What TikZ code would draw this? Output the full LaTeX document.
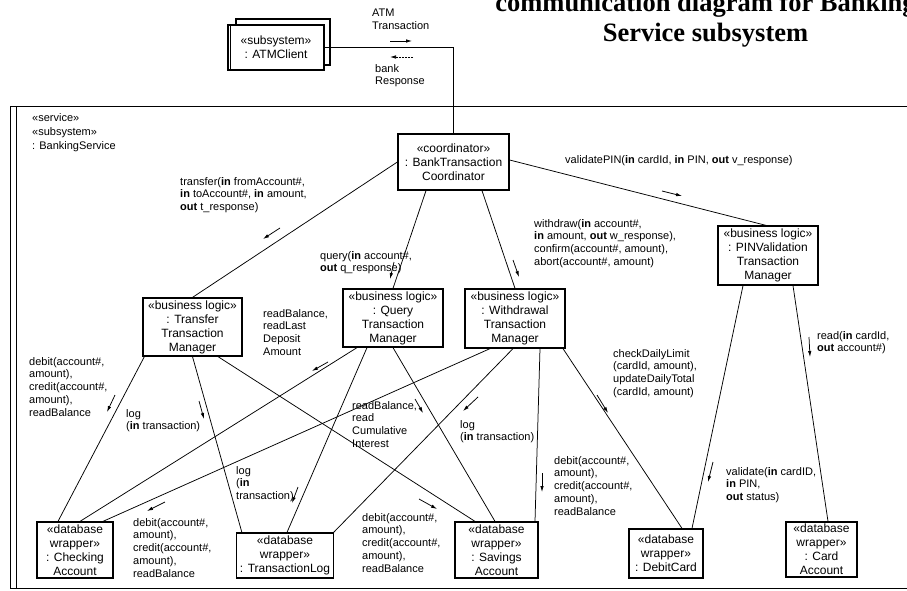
\documentclass[tikz,border=0pt]{standalone}
\usepackage{fontspec}
\setmainfont{Liberation Sans}
\newfontfamily\mytitlefont{Liberation Serif}
\usetikzlibrary{arrows.meta}
\newcommand\myboxfont{\fontsize{12}{14}\selectfont}
\newcommand\mylblfont{\fontsize{11}{12.8}\selectfont}
\begin{document}
\begin{tikzpicture}[x=1pt,y=-1pt,
  obj/.style={draw, line width=1.25pt, fill=white, align=center, inner sep=0pt, font=\myboxfont},
  link/.style={line width=0.75pt},
  lbl/.style={anchor=north west, inner sep=0pt, align=left, font=\mylblfont},
  msg/.style={line width=0.75pt, -{Latex[length=6pt,width=3.5pt]}},
  ttl/.style={anchor=base, inner sep=0pt, font=\mytitlefont\bfseries\fontsize{26.5}{30}\selectfont},
]
\useasboundingbox (0,0) rectangle (907,591);

% title
\node[ttl] (title1) at (705.5,12) {communication diagram for Banking};
\node[ttl] (title2) at (705.5,41.5) {Service subsystem};

% BankingService frame
\draw[line width=1pt] (925,107) -- (10,107) -- (10,588) -- (925,588);
\draw[line width=1pt] (16.5,107) -- (16.5,588);
\node[lbl, font=\fontsize{11}{14}\selectfont] (bsvc) at (32,113) {«service»\\«subsystem»\\: BankingService};

% ATM client multi-object
\draw[line width=1.25pt, fill=white] (236,19) rectangle (330,65);
\node[obj, minimum width=96pt, minimum height=45pt] (atm) at (276,47.5) {«subsystem»\\: ATMClient};
\draw[line width=1.1pt] ([xshift=3.5pt]atm.north west) -- ([xshift=3.5pt]atm.south west);

% objects
\node[obj, minimum width=111pt, minimum height=56pt] (coord) at (453.5,162) {«coordinator»\\: BankTransaction\\Coordinator};
\node[obj, minimum width=99pt, minimum height=58pt] (tran) at (192.5,327) {«business logic»\\: Transfer\\Transaction\\Manager};
\node[obj, minimum width=100pt, minimum height=58pt] (query) at (393,318) {«business logic»\\: Query\\Transaction\\Manager};
\node[obj, minimum width=100pt, minimum height=59pt] (wdr) at (515,318.5) {«business logic»\\: Withdrawal\\Transaction\\Manager};
\node[obj, minimum width=100pt, minimum height=59pt] (pin) at (768,255.5) {«business logic»\\: PINValidation\\Transaction\\Manager};
\node[obj, minimum width=76pt, minimum height=56pt] (chk) at (75,550) {«database\\wrapper»\\: Checking\\Account};
\node[obj, minimum width=97pt, minimum height=45pt] (tlog) at (285,555.5) {«database\\wrapper»\\: TransactionLog};
\node[obj, minimum width=83pt, minimum height=56pt] (sav) at (496.5,550) {«database\\wrapper»\\: Savings\\Account};
\node[obj, minimum width=74pt, minimum height=49pt] (dcard) at (666,553.5) {«database\\wrapper»\\: DebitCard};
\node[obj, minimum width=71pt, minimum height=55pt] (card) at (821.5,549.5) {«database\\wrapper»\\: Card\\Account};

% links
\draw[link] (atm.east) -| (coord.north);
\draw[link] (coord.west) -- (tran.north);
\draw[link] ([xshift=-27.5pt]coord.south) -- (query.north);
\draw[link] ([xshift=28.5pt]coord.south) -- (wdr.north);
\draw[link] ([yshift=2pt]coord.east) -- ([xshift=-2pt]pin.north);
\draw[link] ([xshift=2pt]tran.south west) -- ([xshift=-17pt]chk.north);
\draw[link] (tran.south) -- ([xshift=6pt]tlog.north west);
\draw[link] ([xshift=25.5pt]tran.south) -- ([xshift=-21.5pt]sav.north);
\draw[link] ([xshift=-36pt]query.south) -- ([xshift=5pt]chk.north);
\draw[link] ([xshift=-26pt]query.south) -- ([xshift=2pt]tlog.north);
\draw[link] (query.south) -- ([xshift=-1.5pt]sav.north);
\draw[link] ([xshift=-25pt]wdr.south) -- ([xshift=28pt]chk.north);
\draw[link] ([xshift=-2pt]wdr.south) -- ([xshift=-0.5pt]tlog.north east);
\draw[link] ([xshift=25pt]wdr.south) -- ([xshift=38.5pt]sav.north);
\draw[link] ([xshift=48pt]wdr.south) -- ([xshift=16pt]dcard.north);
\draw[link] ([xshift=-25pt]pin.south) -- ([xshift=26pt]dcard.north);
\draw[link] ([xshift=25pt]pin.south) -- ([xshift=6.5pt]card.north);

% message labels
\node[lbl] (mATM) at (372,9) {ATM\\Transaction};
\node[lbl] (mBank) at (375,64) {bank\\Response};
\node[lbl] (mTransfer) at (180,177) {transfer(\textbf{in} fromAccount\#,\\\textbf{in} toAccount\#, \textbf{in} amount,\\\textbf{out} t\_response)};
\node[lbl] (mQuery) at (320,251) {query(\textbf{in} account\#,\\\textbf{out} q\_response)};
\node[lbl] (mWdr) at (534,219) {withdraw(\textbf{in} account\#,\\\textbf{in} amount, \textbf{out} w\_response),\\confirm(account\#, amount),\\abort(account\#, amount)};
\node[lbl] (mPin) at (565,155) {validatePIN(\textbf{in} cardId, \textbf{in} PIN, \textbf{out} v\_response)};
\node[lbl] (mReadLast) at (263,309) {readBalance,\\readLast\\Deposit\\Amount};
\node[lbl] (mDebit1) at (29,357) {debit(account\#,\\amount),\\credit(account\#,\\amount),\\readBalance};
\node[lbl] (mLog1) at (126,409) {log\\(\textbf{in} transaction)};
\node[lbl] (mCum) at (352,401) {readBalance,\\read\\Cumulative\\Interest};
\node[lbl] (mLog2) at (460,420) {log\\(\textbf{in} transaction)};
\node[lbl] (mLog3) at (236,466) {log\\(\textbf{in}\\transaction)};
\node[lbl] (mDebit2) at (133,518) {debit(account\#,\\amount),\\credit(account\#,\\amount),\\readBalance};
\node[lbl] (mDebit3) at (362,513) {debit(account\#,\\amount),\\credit(account\#,\\amount),\\readBalance};
\node[lbl] (mDebit4) at (554,456) {debit(account\#,\\amount),\\credit(account\#,\\amount),\\readBalance};
\node[lbl] (mDaily) at (613,349) {checkDailyLimit\\(cardId, amount),\\updateDailyTotal\\(cardId, amount)};
\node[lbl] (mRead) at (817,331) {read(\textbf{in} cardId,\\\textbf{out} account\#)};
\node[lbl] (mValid) at (726,467) {validate(\textbf{in} cardID,\\\textbf{in} PIN,\\\textbf{out} status)};

% message arrows
\draw[msg] (390,41) -- (412,41);
\draw[msg, dash pattern=on 2pt off 1pt] (413,57) -- (390,57);
\draw[msg] (280,228) -- (263,239);
\draw[msg] (394,262) -- (390,279);
\draw[msg] (513,260) -- (519,277);
\draw[msg] (662,191) -- (682,196);
\draw[msg] (115,395) -- (107,412);
\draw[msg] (199,401) -- (204,419);
\draw[msg] (328,362) -- (312,371);
\draw[msg] (415,399) -- (423,413);
\draw[msg] (478,397) -- (463,411);
\draw[msg] (298,487) -- (292,503);
\draw[msg] (165,502) -- (147,511);
\draw[msg] (419,499) -- (437,509);
\draw[msg] (542,473) -- (542,492);
\draw[msg] (597,395) -- (608,413);
\draw[msg] (809,337) -- (810,357);
\draw[msg] (713,462) -- (708,482);
\end{tikzpicture}
\end{document}
